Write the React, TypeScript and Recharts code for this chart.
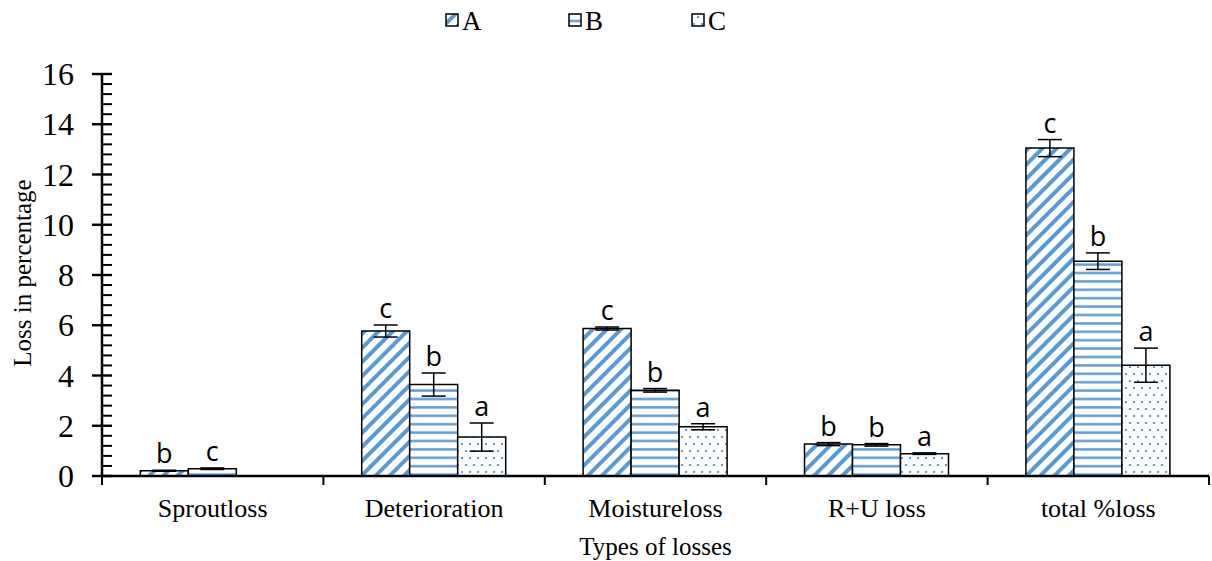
import React from 'react';
import { BarChart, Bar, XAxis, YAxis, ErrorBar, LabelList, Legend } from 'recharts';

const categories = ['Sproutloss', 'Deterioration', 'Moistureloss', 'R+U loss', 'total %loss'];

const seriesA = [0.21, 5.77, 5.87, 1.27, 13.05];
const errA = [0.02, 0.24, 0.06, 0.06, 0.34];
const lettersA = ['b', 'c', 'c', 'b', 'c'];

const seriesB = [0.29, 3.64, 3.41, 1.24, 8.55];
const errB = [0.03, 0.46, 0.07, 0.05, 0.33];
const lettersB = ['c', 'b', 'b', 'b', 'b'];

const seriesC: (number | null)[] = [null, 1.55, 1.96, 0.89, 4.41];
const errC: (number | null)[] = [null, 0.56, 0.12, 0.03, 0.68];
const lettersC = ['', 'a', 'a', 'a', 'a'];

const majorTicks = [0, 2, 4, 6, 8, 10, 12, 14, 16];
const allTicks = [
  0, 0.4, 0.8, 1.2, 1.6, 2, 2.4, 2.8, 3.2, 3.6, 4, 4.4, 4.8, 5.2, 5.6, 6, 6.4, 6.8, 7.2, 7.6, 8,
  8.4, 8.8, 9.2, 9.6, 10, 10.4, 10.8, 11.2, 11.6, 12, 12.4, 12.8, 13.2, 13.6, 14, 14.4, 14.8, 15.2,
  15.6, 16,
];
const seriesNames = ['A', 'B', 'C'];

const data = categories.map((name, i) => ({
  name,
  a: seriesA[i],
  aErr: errA[i],
  b: seriesB[i],
  bErr: errB[i],
  c: seriesC[i],
  cErr: errC[i],
}));

const W = 1212;
const H = 561;
const Y_W = 102;
const M_RIGHT = 3;
const PLOT_BOTTOM = 476;
const BLUE = '#5B9BD5';
const SERIF = '"Liberation Serif", "Times New Roman", serif';
const SANS = '"Open Sans", "Liberation Sans", sans-serif';

const Patterns = () => (
  <defs>
    <pattern id="patA" patternUnits="userSpaceOnUse" width="10" height="10" patternTransform="rotate(45)">
      <rect x="0" y="0" width="10" height="10" fill="#fff" />
      <rect x="0" y="0" width="4" height="10" fill={BLUE} />
    </pattern>
    <pattern id="patB" patternUnits="userSpaceOnUse" width="8" height="8.4">
      <rect x="0" y="0" width="8" height="8.4" fill="#fff" />
      <rect x="0" y="3" width="8" height="2.4" fill={BLUE} />
    </pattern>
    <pattern id="patC" patternUnits="userSpaceOnUse" width="8" height="14">
      <rect x="0" y="0" width="8" height="14" fill="#fff" />
      <rect x="1" y="2" width="2" height="2" fill={BLUE} />
      <rect x="5" y="9" width="2" height="2" fill={BLUE} />
    </pattern>
  </defs>
);

const makeLetterLabel = (vals: (number | null)[], errs: (number | null)[], letters: string[]) => (props: any) => {
  const { x, y, width, height, value } = props;
  const i = vals.findIndex((v) => v != null && v === Number(value));
  if (i < 0) return null;
  const v = vals[i] as number;
  const e = errs[i] ?? 0;
  const letter = letters[i];
  if (!letter || !v) return null;
  const k = Math.abs(Number(height)) / v;
  const top = Number(y) - e * k;
  return (
    <text x={Number(x) + Number(width) / 2} y={top - 7} textAnchor="middle" fontFamily={SANS} fontSize={27} fill="#000">
      {letter}
    </text>
  );
};

const CatTick = (props: any) => {
  const { x, payload, index } = props;
  const cw = (W - Y_W - M_RIGHT) / categories.length;
  return (
    <g>
      <line x1={x + cw / 2} y1={PLOT_BOTTOM} x2={x + cw / 2} y2={PLOT_BOTTOM + 9} stroke="#000" strokeWidth={2} />
      {index === 0 && (
        <line x1={x - cw / 2} y1={PLOT_BOTTOM} x2={x - cw / 2} y2={PLOT_BOTTOM + 9} stroke="#000" strokeWidth={2} />
      )}
      <text x={x} y={PLOT_BOTTOM + 41} textAnchor="middle" fontFamily={SERIF} fontSize={26} fill="#000">
        {payload.value}
      </text>
    </g>
  );
};

const ValTick = (props: any) => {
  const { y, payload } = props;
  const v = Number(payload.value);
  const isMajor = majorTicks.includes(v);
  const ax = Y_W;
  return (
    <g>
      <line x1={ax} y1={y} x2={ax + 10} y2={y} stroke="#000" strokeWidth={isMajor ? 2.4 : 2} />
      {isMajor && <line x1={ax - 10} y1={y} x2={ax} y2={y} stroke="#000" strokeWidth={2.4} />}
      {isMajor && (
        <text x={ax - 28} y={y} dy="0.35em" textAnchor="end" fontFamily={SERIF} fontSize={32} fill="#000">
          {v}
        </text>
      )}
    </g>
  );
};

const legendX = [446, 569, 692];
const legendFills = ['url(#patA)', 'url(#patB)', 'url(#patC)'];

const LegendContent = () => (
  <svg width={W} height={40} style={{ display: 'block' }}>
    {seriesNames.map((n, i) => (
      <g key={n}>
        <rect x={legendX[i]} y={14} width={12} height={12} fill={legendFills[i]} stroke="#000" strokeWidth={1.5} />
        <text x={legendX[i] + 16} y={30} fontFamily={SERIF} fontSize={27} fill="#000">
          {n}
        </text>
      </g>
    ))}
  </svg>
);

const YTitle = () => (
  <text x={31} y={273} transform="rotate(-90 31 273)" textAnchor="middle" fontFamily={SERIF} fontSize={25} fill="#000">
    Loss in percentage
  </text>
);

export default function App() {
  return (
    <div style={{ position: 'absolute', left: 0, top: 0, width: W, height: H, background: '#fff' }}>
      <BarChart
        width={W}
        height={H}
        data={data}
        margin={{ top: 34, right: M_RIGHT, bottom: 0, left: 0 }}
        barCategoryGap="17.3%"
        barGap={0}
      >
        <Patterns />
        <Legend verticalAlign="top" height={40} content={LegendContent} wrapperStyle={{ top: 0, left: 0, width: W, height: 40 }} />
        <XAxis
          dataKey="name"
          height={85}
          interval={0}
          tickLine={false}
          axisLine={{ stroke: '#000', strokeWidth: 2.5 }}
          tick={<CatTick />}
          label={{ value: 'Types of losses', position: 'insideBottom', offset: 6, fontFamily: SERIF, fontSize: 25, fill: '#000' }}
        />
        <YAxis
          domain={[0, 16]}
          ticks={allTicks}
          interval={0}
          width={Y_W}
          tickLine={false}
          axisLine={{ stroke: '#000', strokeWidth: 2.5 }}
          tick={<ValTick />}
          label={<YTitle />}
        />
        <Bar dataKey="a" name="A" fill="url(#patA)" stroke="#000" strokeWidth={1.5} isAnimationActive={false}>
          <ErrorBar dataKey="aErr" width={12} stroke="#000" strokeWidth={1.5} />
          <LabelList dataKey="a" content={makeLetterLabel(seriesA, errA, lettersA)} />
        </Bar>
        <Bar dataKey="b" name="B" fill="url(#patB)" stroke="#000" strokeWidth={1.5} isAnimationActive={false}>
          <ErrorBar dataKey="bErr" width={12} stroke="#000" strokeWidth={1.5} />
          <LabelList dataKey="b" content={makeLetterLabel(seriesB, errB, lettersB)} />
        </Bar>
        <Bar dataKey="c" name="C" fill="url(#patC)" stroke="#000" strokeWidth={1.5} isAnimationActive={false}>
          <ErrorBar dataKey="cErr" width={12} stroke="#000" strokeWidth={1.5} />
          <LabelList dataKey="c" content={makeLetterLabel(seriesC, errC, lettersC)} />
        </Bar>
      </BarChart>
    </div>
  );
}
